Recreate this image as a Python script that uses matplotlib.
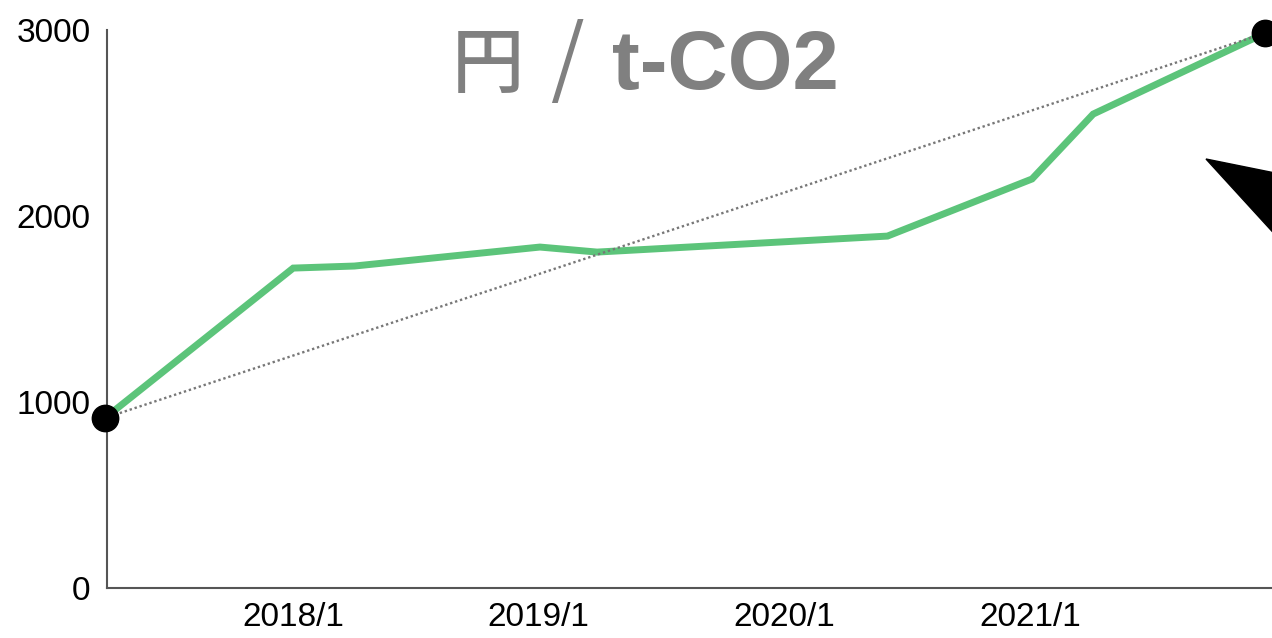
import numpy as np
import matplotlib
matplotlib.use('Agg')
import matplotlib.pyplot as plt
import matplotlib.dates as mdates
from matplotlib.patches import Polygon

# price data (円 / t-CO2)
dates = ['2017-03-27', '2018-01-01', '2018-04-02', '2019-01-03', '2019-03-29',
         '2020-06-03', '2021-01-04', '2021-04-05', '2021-12-17']
prices = [914, 1720, 1731, 1833, 1806, 1892, 2199, 2548, 2984]
tick_dates = ['2018-01-01', '2019-01-01', '2020-01-01', '2021-01-01']
tick_labels = ['2018/1', '2019/1', '2020/1', '2021/1']
y_ticks = [0, 1000, 2000, 3000]

x = mdates.datestr2num(dates)
xt = mdates.datestr2num(tick_dates)

W, H = 1272, 638
fig = plt.figure(figsize=(W / 100, H / 100), dpi=100)
ax = fig.add_axes([107 / W, 50 / H, 1 - 107 / W, (588 - 30) / H])

ax.plot(x, prices, color='#5cc47a', lw=5, solid_joinstyle='miter', zorder=2)
# dotted trend from first to last point
ax.plot([x[0], x[-1]], [prices[0], prices[-1]], color='#777777', lw=1.7,
        linestyle=(0, (1, 1.2)), zorder=3)
ax.plot([x[0], x[-1]], [prices[0], prices[-1]], 'o', color='black', ms=19,
        clip_on=False, zorder=4)

ax.set_xlim(mdates.datestr2num('2017-03-30'), mdates.datestr2num('2021-12-27'))
ax.set_ylim(0, 3000)
ax.set_xticks(xt)
ax.set_xticklabels(tick_labels)
ax.set_yticks(y_ticks)
ax.tick_params(length=0, labelsize=24)
ax.tick_params(axis='y', pad=12)
ax.tick_params(axis='x', pad=10)
for lab in ax.get_xticklabels() + ax.get_yticklabels():
    lab.set_family('Liberation Sans')

for s in ['top', 'right']:
    ax.spines[s].set_visible(False)
for s in ['left', 'bottom']:
    ax.spines[s].set_color('#555555')
    ax.spines[s].set_linewidth(1.5)

# title in three pieces: 円 / t-CO2
fig.text(452 / W, 1 - 87 / H, '円', color='#808080', fontsize=52, fontweight='medium',
         family='Noto Sans CJK JP', ha='left', va='baseline')
fig.text(550 / W, 1 - 88 / H, '/', color='#808080', fontsize=62, fontweight='normal',
         family='Noto Sans CJK JP', ha='left', va='baseline')
fig.text(612 / W, 1 - 89 / H, 't-CO2', color='#808080', fontsize=60, fontweight='bold',
         family='Liberation Sans', ha='left', va='baseline')

# black arrow head at the right edge
tri = np.array([[1206, 159], [1280, 174], [1280, 240]])
fig.patches.append(Polygon(np.column_stack([tri[:, 0] / W, 1 - tri[:, 1] / H]),
                           closed=True, color='black',
                           transform=fig.transFigure, figure=fig))

fig.savefig('out.png', dpi=100)
